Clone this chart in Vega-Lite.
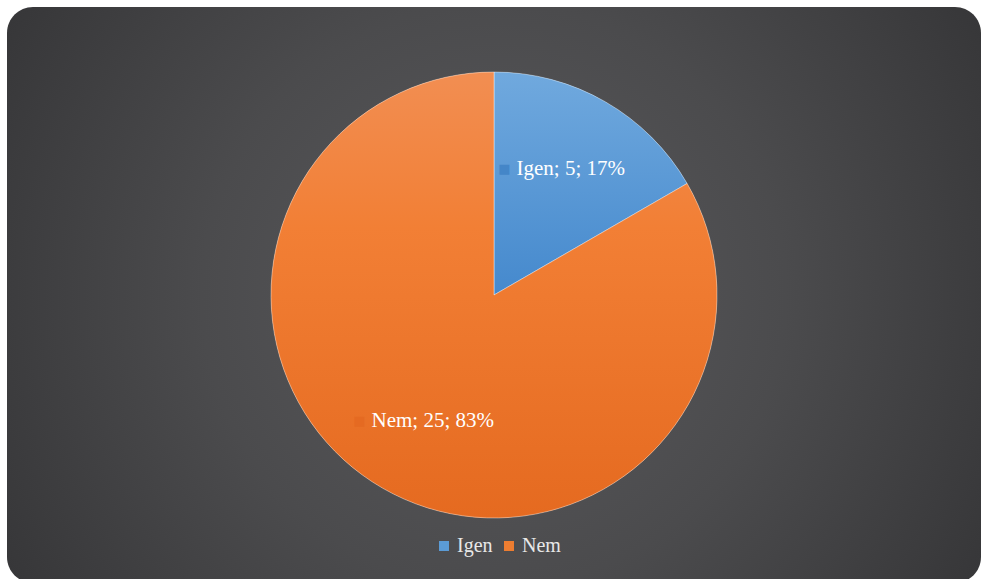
{
  "$schema": "https://vega.github.io/schema/vega-lite/v6.json",
  "autosize": {"type": "none"},
  "width": 974,
  "height": 576,
  "padding": {"left": 7, "top": 7, "right": 0, "bottom": 0},
  "background": "#ffffff",
  "config": {
    "view": {"stroke": null}
  },
  "data": {
    "values": [
      {"answer": "Igen", "count": 5},
      {"answer": "Nem", "count": 25}
    ]
  },
  "layer": [
    {
      "data": {"values": [{"panel": "background"}]},
      "mark": {
        "type": "rect",
        "cornerRadius": 26,
        "fill": {
          "gradient": "radial",
          "x1": 0.5, "y1": 0.5, "r1": 0,
          "x2": 0.5, "y2": 0.5, "r2": 0.6,
          "stops": [
            {"offset": 0, "color": "#5a5a5d"},
            {"offset": 0.5, "color": "#4b4b4d"},
            {"offset": 1, "color": "#353537"}
          ]
        }
      },
      "encoding": {}
    },
    {
      "transform": [
        {"joinaggregate": [{"op": "sum", "field": "count", "as": "total"}]},
        {"calculate": "datum.answer + '; ' + datum.count + '; ' + format(datum.count / datum.total, '.0%')", "as": "label"}
      ],
      "encoding": {
        "theta": {"field": "count", "type": "quantitative", "stack": true}
      },
      "layer": [
        {
          "mark": {"type": "arc", "outerRadius": 223},
          "encoding": {
            "color": {
              "field": "answer",
              "type": "nominal",
              "scale": {"domain": ["Igen", "Nem"], "range": ["#5b9bd5", "#ed7d31"]},
              "legend": {
                "title": null,
                "orient": "none",
                "legendX": 427,
                "legendY": 529,
                "direction": "horizontal",
                "labelFont": "Liberation Serif",
                "labelFontSize": 20,
                "labelColor": "#e8e8e8",
                "symbolType": "square",
                "symbolSize": 100,
                "symbolStrokeWidth": 0,
                "columnPadding": 6,
                "labelOffset": 3
              }
            }
          }
        },
        {
          "mark": {"type": "arc", "outerRadius": 223, "stroke": "#ffffff", "strokeOpacity": 0.5, "strokeWidth": 0.8},
          "encoding": {
            "color": {
              "condition": {
                "test": "datum.answer === 'Igen'",
                "value": {
                  "gradient": "linear", "x1": 0, "y1": 0, "x2": 0, "y2": 1,
                  "stops": [
                    {"offset": 0, "color": "#70a9de"},
                    {"offset": 1, "color": "#4589cd"}
                  ]
                }
              },
              "value": {
                "gradient": "linear", "x1": 0, "y1": 0, "x2": 0, "y2": 1,
                "stops": [
                  {"offset": 0, "color": "#f28e52"},
                  {"offset": 0.35, "color": "#f27f35"},
                  {"offset": 1, "color": "#e56a20"}
                ]
              }
            }
          }
        },
        {
          "mark": {"type": "text", "radius": 145, "text": "■", "font": "DejaVu Sans", "fontSize": 13, "align": "center", "baseline": "middle", "dx": -62},
          "encoding": {
            "color": {
              "condition": {"test": "datum.answer === 'Igen'", "value": "#4486c8"},
              "value": "#e56a22"
            }
          }
        },
        {
          "mark": {"type": "text", "radius": 145, "font": "Liberation Serif", "fontSize": 21, "align": "left", "baseline": "middle", "dx": -50, "color": "#ffffff"},
          "encoding": {
            "text": {"field": "label", "type": "nominal"}
          }
        }
      ]
    }
  ]
}
